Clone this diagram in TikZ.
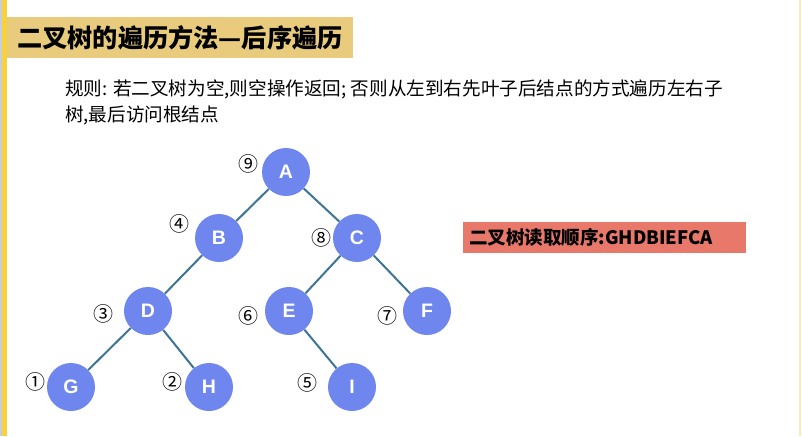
\documentclass[tikz,border=0pt]{standalone}
\usepackage{fontspec}
\setmainfont{Liberation Sans}
\newfontfamily\cjk{Noto Sans CJK SC}
\definecolor{titlebg}{HTML}{E8CB7C}
\definecolor{sidebar}{HTML}{F5D23E}
\definecolor{nodefill}{HTML}{6F86EE}
\definecolor{edgecol}{HTML}{3D7594}
\definecolor{redbox}{HTML}{E8786A}
\definecolor{greyline}{HTML}{C8CCD6}
\tikzset{
  tnode/.style={circle, fill=nodefill, minimum size=48pt, inner sep=0pt,
    text=white, font=\fontsize{19.5}{19.5}\selectfont\bfseries},
  edge/.style={draw=edgecol, line width=2pt},
  order/.style={font=\cjk\fontsize{20}{20}\selectfont, inner sep=0pt}
}
\begin{document}
\begin{tikzpicture}[x=1pt,y=-1pt]
\useasboundingbox (0,0) rectangle (802,436);
\fill[white] (0,0) rectangle (802,436);
\fill[greyline] (0,0) rectangle (2,436);
\fill[sidebar] (2,0) rectangle (7,436);
\fill[sidebar!40] (799,0) rectangle (801,436);
% title
\fill[titlebg] (7,17) rectangle (353,58);
\node[anchor=west, inner sep=0pt, font=\cjk\bfseries\fontsize{25.2}{25.2}\selectfont] (title) at (17,38) {二叉树的遍历方法—后序遍历};
% rule text
\node[anchor=west, inner sep=0pt, font=\cjk\fontsize{18.6}{18.6}\selectfont] (rule1) at (65,89) {规则: 若二叉树为空,则空操作返回; 否则从左到右先叶子后结点的方式遍历左右子};
\node[anchor=west, inner sep=0pt, font=\cjk\fontsize{18.6}{18.6}\selectfont] (rule2) at (65,115) {树,最后访问根结点};
% result box
\node[fill=redbox, minimum width=283pt, minimum height=31pt, inner sep=0pt, anchor=north west] (res) at (463,222) {};
\node[anchor=west, inner sep=0pt, font=\cjk\bfseries\fontsize{18.5}{18.5}\selectfont] (restext) at (469,237.5) {二叉树读取顺序:GHDBIEFCA};
% nodes
\node[tnode] (A) at (286,172) {A};
\node[tnode] (B) at (219,238) {B};
\node[tnode] (C) at (357,238) {C};
\node[tnode] (D) at (148,311) {D};
\node[tnode] (E) at (289,311) {E};
\node[tnode] (F) at (427,311) {F};
\node[tnode] (G) at (71,387) {G};
\node[tnode] (H) at (209,387) {H};
\node[tnode] (I) at (352,387) {I};
\draw[edge] (A) -- (B);
\draw[edge] (A) -- (C);
\draw[edge] (B) -- (D);
\draw[edge] (C) -- (E);
\draw[edge] (C) -- (F);
\draw[edge] (D) -- (G);
\draw[edge] (D) -- (H);
\draw[edge] (E) -- (I);
% order labels
\node[order] (o9) at (248,164) {⑨};
\node[order] (o4) at (179,224) {④};
\node[order] (o8) at (321,238) {⑧};
\node[order] (o3) at (103,314) {③};
\node[order] (o6) at (248,316) {⑥};
\node[order] (o7) at (387,316) {⑦};
\node[order] (o1) at (35,382) {①};
\node[order] (o2) at (172,382) {②};
\node[order] (o5) at (307,383) {⑤};
\end{tikzpicture}
\end{document}
